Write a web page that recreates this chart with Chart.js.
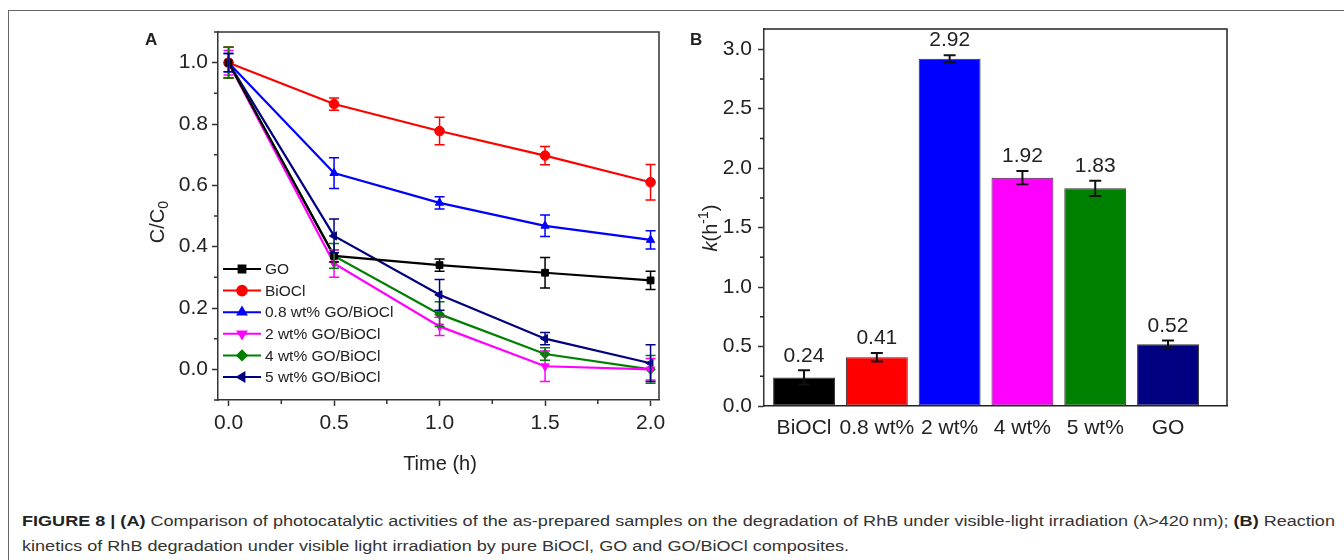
<!DOCTYPE html>
<html>
<head>
<meta charset="utf-8">
<script src="https://cdn.jsdelivr.net/npm/chart.js@4.4.1/dist/chart.umd.min.js"></script>
<style>
  body { margin: 0; width: 1344px; height: 560px; background: #fff; position: relative; overflow: hidden;
         font-family: "Liberation Sans", Arial, sans-serif; color: #222; }
  #frame { position: absolute; left: 8px; top: 10px; width: 1400px; height: 600px;
           border-left: 1.5px solid #666; border-top: 1.5px solid #666; }
  .panel { position: absolute; top: 10px; width: 560px; height: 480px; }
  .letter { position: absolute; font-weight: bold; font-size: 17px; }
  .ttl { position: absolute; font-size: 20px; white-space: nowrap; transform: translate(-50%, -50%); }
  .rot { transform: translate(-50%, -50%) rotate(-90deg); }
  .ttl sub { font-size: 14px; vertical-align: -4px; }
  .ttl sup { font-size: 14px; vertical-align: 9px; }
  #caption { position: absolute; left: 22px; top: 508px; margin: 0; font-size: 15.5px; line-height: 25px;
             color: #333; white-space: nowrap; transform-origin: 0 0; }
  #caption b { color: #222; }
</style>
</head>
<body>
<div id="frame"></div>
<div class="panel" style="left:130px"><canvas id="chartA" width="560" height="480"></canvas></div>
<div class="panel" style="left:690px"><canvas id="chartB" width="560" height="480"></canvas></div>
<div class="letter" style="left:145px;top:30px">A</div>
<div class="letter" style="left:690px;top:30px">B</div>
<div class="ttl rot" style="left:158px;top:222px">C/C<sub>0</sub></div>
<div class="ttl" style="left:440px;top:463px">Time (h)</div>
<div class="ttl rot" style="left:708px;top:228px"><i>k</i>(h<sup>-1</sup>)</div>
<p id="caption"><span id="capLine1"><b>FIGURE 8 | (A)</b> Comparison of photocatalytic activities of the as-prepared samples on the degradation of RhB under visible-light irradiation (λ&gt;420&thinsp;nm); <b>(B)</b> Reaction</span><br>kinetics of RhB degradation under visible light irradiation by pure BiOCl, GO and GO/BiOCl composites.</p>

<script>
// ---- panel A data: C/C0 vs time ----
const timeH = [0, 0.5, 1.0, 1.5, 2.0];
const seriesNames = ['GO', 'BiOCl', '0.8 wt% GO/BiOCl', '2 wt% GO/BiOCl', '4 wt% GO/BiOCl', '5 wt% GO/BiOCl'];
const goVals     = [1.0, 0.37, 0.34, 0.315, 0.29];
const goErr      = [0.05, 0.02, 0.02, 0.05, 0.03];
const biociVals  = [1.0, 0.865, 0.777, 0.697, 0.61];
const biociErr   = [0.05, 0.02, 0.045, 0.03, 0.058];
const wt08Vals   = [1.0, 0.64, 0.543, 0.468, 0.422];
const wt08Err    = [0.03, 0.05, 0.02, 0.035, 0.03];
const wt2Vals    = [1.0, 0.345, 0.14, 0.01, 0.0];
const wt2Err     = [0.04, 0.045, 0.03, 0.05, 0.035];
const wt4Vals    = [1.0, 0.37, 0.18, 0.05, 0.0];
const wt4Err     = [0.05, 0.04, 0.04, 0.02, 0.045];
const wt5Vals    = [1.0, 0.435, 0.243, 0.10, 0.02];
const wt5Err     = [0.03, 0.055, 0.05, 0.02, 0.06];
const timeTicks  = [0, 0.5, 1.0, 1.5, 2.0];
const ratioTicks = [0, 0.2, 0.4, 0.6, 0.8, 1.0];

// ---- panel B data: rate constants ----
const sampleNames = ['BiOCl', '0.8 wt%', '2 wt%', '4 wt%', '5 wt%', 'GO'];
const rateVals    = [0.24, 0.41, 2.92, 1.92, 1.83, 0.52];
const rateErr     = [0.06, 0.035, 0.03, 0.055, 0.065, 0.03];
const rateTicks   = [0, 0.5, 1.0, 1.5, 2.0, 2.5, 3.0];

const seriesColors = ['#000000', '#ff0000', '#0000ff', '#ff00ff', '#008000', '#000080'];
const barColors    = ['#000000', '#ff0000', '#0000ff', '#ff00ff', '#008000', '#000080'];
const markers      = ['rect', 'circle', 'triangle', 'triangle', 'rectRot', 'triangle'];
const markerRot    = [0, 0, 0, 180, 0, 270];

const FONT = '"Liberation Sans", Arial, sans-serif';
const INK = '#222';

// stretch the first caption line so it runs to the right edge like the figure page
const cap = document.getElementById('caption');
const line1 = document.getElementById('capLine1');
cap.style.transform = 'scaleX(' + (1313 / line1.getBoundingClientRect().width).toFixed(4) + ')';

// vertical error bars, drawn from the chart's own y scale
const errorBars = {
  id: 'errorBars',
  afterDatasetsDraw(chart, args, opts) {
    const ctx = chart.ctx;
    const ys = chart.scales.y;
    chart.data.datasets.forEach((ds, i) => {
      if (!ds.errors) return;
      const meta = chart.getDatasetMeta(i);
      ctx.save();
      ctx.strokeStyle = ds.errorColor || ds.borderColor;
      ctx.lineWidth = opts.width || 1.5;
      meta.data.forEach((el, j) => {
        const v = ds.data[j].y, e = ds.errors[j];
        const x = el.x;
        const t = ys.getPixelForValue(v + e), b = ys.getPixelForValue(v - e);
        const c = opts.cap || 4;
        ctx.beginPath();
        ctx.moveTo(x, t); ctx.lineTo(x, b);
        ctx.moveTo(x - c, t); ctx.lineTo(x + c, t);
        ctx.moveTo(x - c, b); ctx.lineTo(x + c, b);
        ctx.stroke();
        if (opts.valueLabels) {
          ctx.fillStyle = INK;
          ctx.font = '21px ' + FONT;
          ctx.textAlign = 'center';
          ctx.textBaseline = 'bottom';
          ctx.fillText(v.toFixed(2), x, t - 4);
        }
      });
      ctx.restore();
    });
  }
};

// closed box around the plot plus short minor ticks
const boxAndMinor = {
  id: 'boxAndMinor',
  afterDraw(chart, args, opts) {
    const { ctx, chartArea: a, scales } = chart;
    ctx.save();
    ctx.strokeStyle = opts.color;
    ctx.lineWidth = opts.width;
    ctx.beginPath();
    ctx.moveTo(a.left, a.top); ctx.lineTo(a.right, a.top); ctx.lineTo(a.right, a.bottom);
    ctx.stroke();
    const minor = (scale, step, majors, horiz) => {
      if (!step) return;
      const k0 = Math.ceil(scale.min / step - 1e-9), k1 = Math.floor(scale.max / step + 1e-9);
      ctx.beginPath();
      for (let k = k0; k <= k1; k++) {
        const v = k * step;
        if (majors.some(m => Math.abs(m - v) < 1e-6)) continue;
        const p = scale.getPixelForValue(v);
        if (horiz) { ctx.moveTo(p, a.bottom); ctx.lineTo(p, a.bottom + opts.minorLen); }
        else { ctx.moveTo(a.left, p); ctx.lineTo(a.left - opts.minorLen, p); }
      }
      ctx.stroke();
    };
    minor(scales.x, opts.xStep, opts.xMajor || [], true);
    minor(scales.y, opts.yStep, opts.yMajor || [], false);
    ctx.restore();
  }
};

// legend drawn inside the plot area of panel A
const innerLegend = {
  id: 'innerLegend',
  afterDraw(chart, args, opts) {
    const { ctx, chartArea: a } = chart;
    ctx.save();
    ctx.font = opts.size + 'px ' + FONT;
    ctx.textBaseline = 'middle';
    ctx.textAlign = 'left';
    chart.data.datasets.forEach((ds, i) => {
      const y = a.top + opts.top + i * opts.gap;
      const x0 = a.left + opts.left;
      ctx.strokeStyle = ds.borderColor;
      ctx.fillStyle = ds.borderColor;
      ctx.lineWidth = 2;
      ctx.beginPath(); ctx.moveTo(x0, y); ctx.lineTo(x0 + opts.lineLen, y); ctx.stroke();
      if (Chart.helpers && Chart.helpers.drawPoint) {
        Chart.helpers.drawPoint(ctx, { pointStyle: ds.pointStyle, rotation: ds.pointRotation,
          radius: ds.pointRadius, borderWidth: 1 }, x0 + opts.lineLen / 2, y);
      }
      ctx.fillStyle = INK;
      ctx.fillText(ds.label, x0 + opts.lineLen + 4, y + 1);
    });
    ctx.restore();
  }
};

const axisCommon = (tickLen) => ({
  grid: { drawOnChartArea: false, drawTicks: true, tickLength: tickLen, tickColor: '#333', tickWidth: 1.5 },
  border: { display: true, color: '#333', width: 1.5 },
  ticks: { color: INK, font: { family: FONT, size: 21 } }
});

const valsA = [goVals, biociVals, wt08Vals, wt2Vals, wt4Vals, wt5Vals];
const errsA = [goErr, biociErr, wt08Err, wt2Err, wt4Err, wt5Err];

new Chart(document.getElementById('chartA'), {
  type: 'line',
  data: {
    datasets: seriesNames.map((name, i) => ({
      label: name,
      data: timeH.map((t, k) => ({ x: t, y: valsA[i][k] })),
      errors: errsA[i],
      borderColor: seriesColors[i],
      backgroundColor: seriesColors[i],
      borderWidth: 2.2,
      pointStyle: markers[i],
      pointRotation: markerRot[i],
      pointRadius: 4.8,
      pointBorderWidth: 1,
      tension: 0
    }))
  },
  options: {
    responsive: false,
    animation: false,
    events: [],
    layout: { padding: { left: 0, top: 22, right: 31, bottom: 0 } },
    plugins: {
      legend: { display: false },
      tooltip: { enabled: false },
      errorBars: { width: 1.5, cap: 5 },
      boxAndMinor: { color: '#333', width: 1.5, minorLen: 4, xStep: 0.25, yStep: 0.1,
                     xMajor: timeTicks, yMajor: ratioTicks },
      innerLegend: { size: 15.5, left: 5, top: 237, gap: 21.6, lineLen: 38 }
    },
    scales: {
      x: Object.assign(axisCommon(6), {
        type: 'linear', min: -0.05, max: 2.04,
        afterBuildTicks: s => { s.ticks = timeTicks.map(v => ({ value: v })); },
        afterFit: s => { s.height = 90; }
      }),
      y: Object.assign(axisCommon(6), {
        type: 'linear', min: -0.1, max: 1.1,
        afterBuildTicks: s => { s.ticks = ratioTicks.map(v => ({ value: v })); },
        afterFit: s => { s.width = 88; }
      })
    }
  },
  plugins: [errorBars, boxAndMinor, innerLegend]
});
Chart.getChart('chartA').options.scales.x.ticks.padding = 5;
Chart.getChart('chartA').options.scales.x.ticks.callback = v => v.toFixed(1);
Chart.getChart('chartA').options.scales.y.ticks.padding = 4;
Chart.getChart('chartA').options.scales.y.ticks.callback = v => v.toFixed(1);
Chart.getChart('chartA').update();

new Chart(document.getElementById('chartB'), {
  type: 'bar',
  data: {
    datasets: [{
      label: 'k',
      data: sampleNames.map((n, i) => ({ x: i + 1, y: rateVals[i] })),
      errors: rateErr,
      errorColor: '#111',
      backgroundColor: barColors,
      borderColor: '#333',
      borderWidth: 1,
      borderSkipped: false,
      categoryPercentage: 1,
      barPercentage: 0.85
    }]
  },
  options: {
    responsive: false,
    animation: false,
    events: [],
    layout: { padding: { left: 0, top: 19, right: 23, bottom: 0 } },
    plugins: {
      legend: { display: false },
      tooltip: { enabled: false },
      errorBars: { width: 2, cap: 6, valueLabels: true },
      boxAndMinor: { color: '#222', width: 1.5, minorLen: 4, yStep: 0.25, yMajor: rateTicks }
    },
    scales: {
      x: {
        type: 'linear', min: 0.45, max: 6.81, offset: false,
        grid: { drawOnChartArea: false, drawTicks: false },
        border: { display: true, color: '#222', width: 1.5 },
        ticks: { color: INK, font: { family: FONT, size: 21 }, padding: 10,
                 callback: v => sampleNames[v - 1] || '' },
        afterBuildTicks: s => { s.ticks = sampleNames.map((n, i) => ({ value: i + 1 })); },
        afterFit: s => { s.height = 84; }
      },
      y: Object.assign(axisCommon(6), {
        type: 'linear', min: 0, max: 3.17,
        afterBuildTicks: s => { s.ticks = rateTicks.map(v => ({ value: v })); },
        afterFit: s => { s.width = 74; }
      })
    }
  },
  plugins: [errorBars, boxAndMinor]
});
Chart.getChart('chartB').options.scales.y.ticks.padding = 6;
Chart.getChart('chartB').options.scales.y.ticks.callback = v => v.toFixed(1);
Chart.getChart('chartB').update();
</script>
</body>
</html>
